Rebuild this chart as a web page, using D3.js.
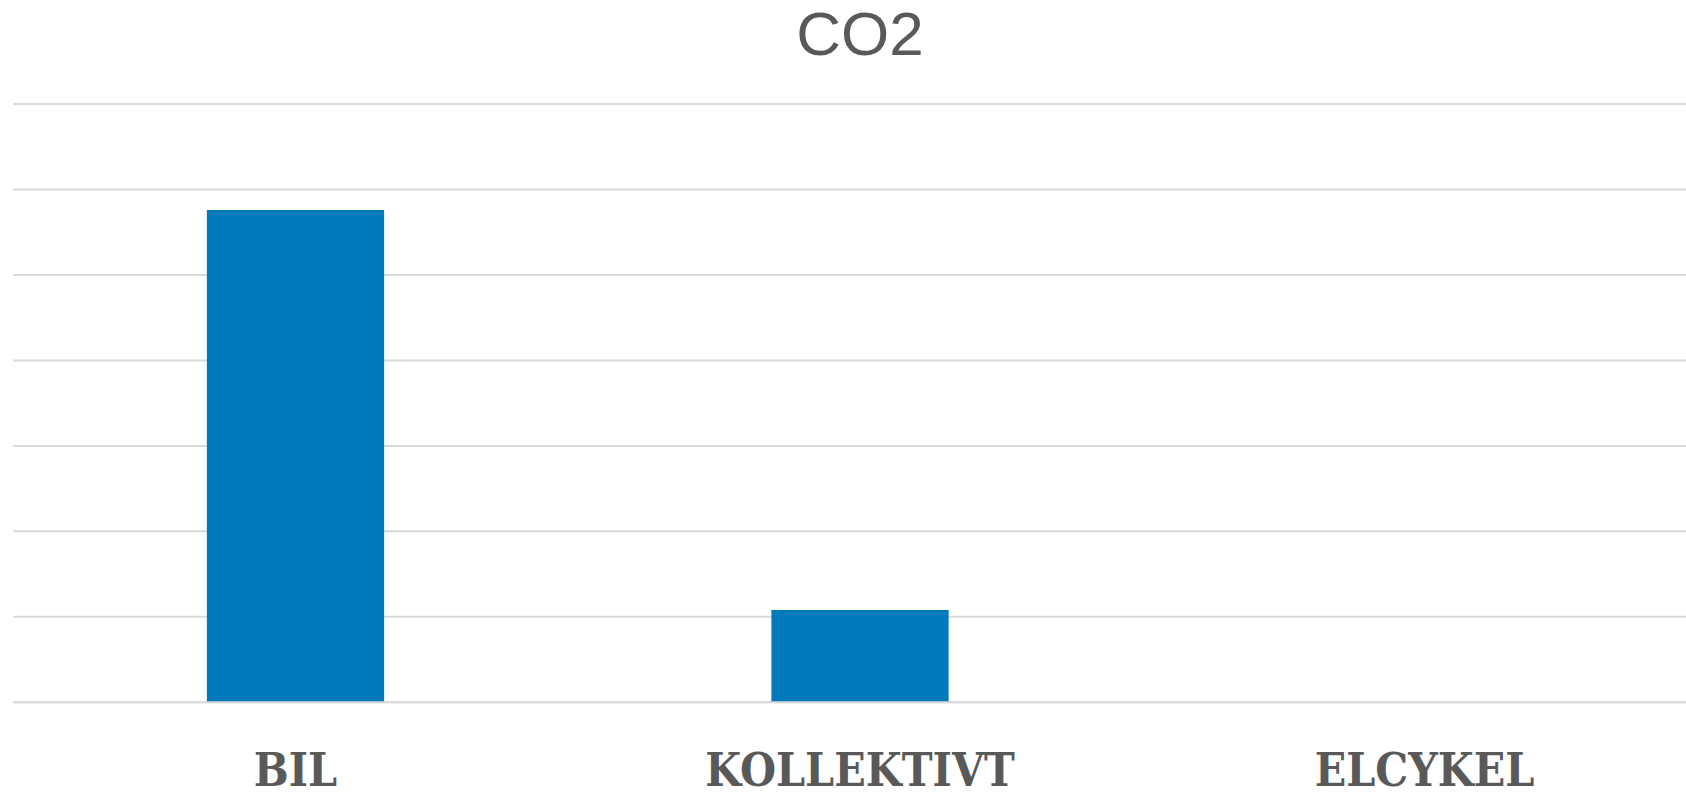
<!DOCTYPE html>
<html>
<head>
<meta charset="utf-8">
<script src="https://cdn.jsdelivr.net/npm/d3@7/dist/d3.min.js"></script>
<style>
  html, body { margin: 0; padding: 0; background: #fff; overflow: hidden; }
  svg { display: block; }
</style>
</head>
<body>
<svg id="chart" width="1686" height="792"></svg>
<script>
const title = "CO2";
const categories = ["BIL", "KOLLEKTIVT", "ELCYKEL"];
const values = [5.76, 1.08, 0];
const yTicks = [0, 1, 2, 3, 4, 5, 6, 7];

(function () {
const svg = d3.select("#chart");
const mLeft = 13.25, mRight = 1706.75, mTop = 104, mBottom = 702.3;

const x = d3.scaleBand().domain(categories).range([mLeft, mRight])
  .paddingInner(0.686).paddingOuter(0.343);
const y = d3.scaleLinear().domain([0, 7]).range([mBottom, mTop]);

// gridlines
svg.append("g").selectAll("line").data(yTicks).join("line")
  .attr("x1", mLeft).attr("x2", mRight)
  .attr("y1", d => y(d)).attr("y2", d => y(d))
  .attr("stroke", "#d9d9d9").attr("stroke-width", 2);

// bars
svg.append("g").selectAll("rect").data(categories).join("rect")
  .attr("x", d => x(d))
  .attr("width", x.bandwidth())
  .attr("y", (d, i) => y(values[i]))
  .attr("height", (d, i) => y(0) - y(values[i]))
  .attr("fill", "#0079BD");

// baseline on top
svg.append("line")
  .attr("x1", mLeft).attr("x2", mRight)
  .attr("y1", y(0)).attr("y2", y(0))
  .attr("stroke", "#d9d9d9").attr("stroke-width", 2);

// x axis labels
const xAxis = d3.axisBottom(x).tickSize(0).tickPadding(0);
const gx = svg.append("g").attr("transform", `translate(0,${mBottom})`).call(xAxis);
gx.select(".domain").remove();
gx.selectAll("text")
  .attr("dy", null)
  .attr("y", 84)
  .attr("fill", "#595959")
  .attr("font-family", "'DejaVu Serif Condensed', 'DejaVu Serif', serif")
  .attr("font-weight", "bold")
  .attr("font-size", 46)
  .attr("text-anchor", "middle");

// title
svg.append("text")
  .attr("x", (mLeft + mRight) / 2)
  .attr("y", 55)
  .attr("text-anchor", "middle")
  .attr("fill", "#595959")
  .attr("font-family", "'Liberation Sans', Arial, sans-serif")
  .attr("font-size", 62)
  .text(title);
})();
</script>
</body>
</html>
